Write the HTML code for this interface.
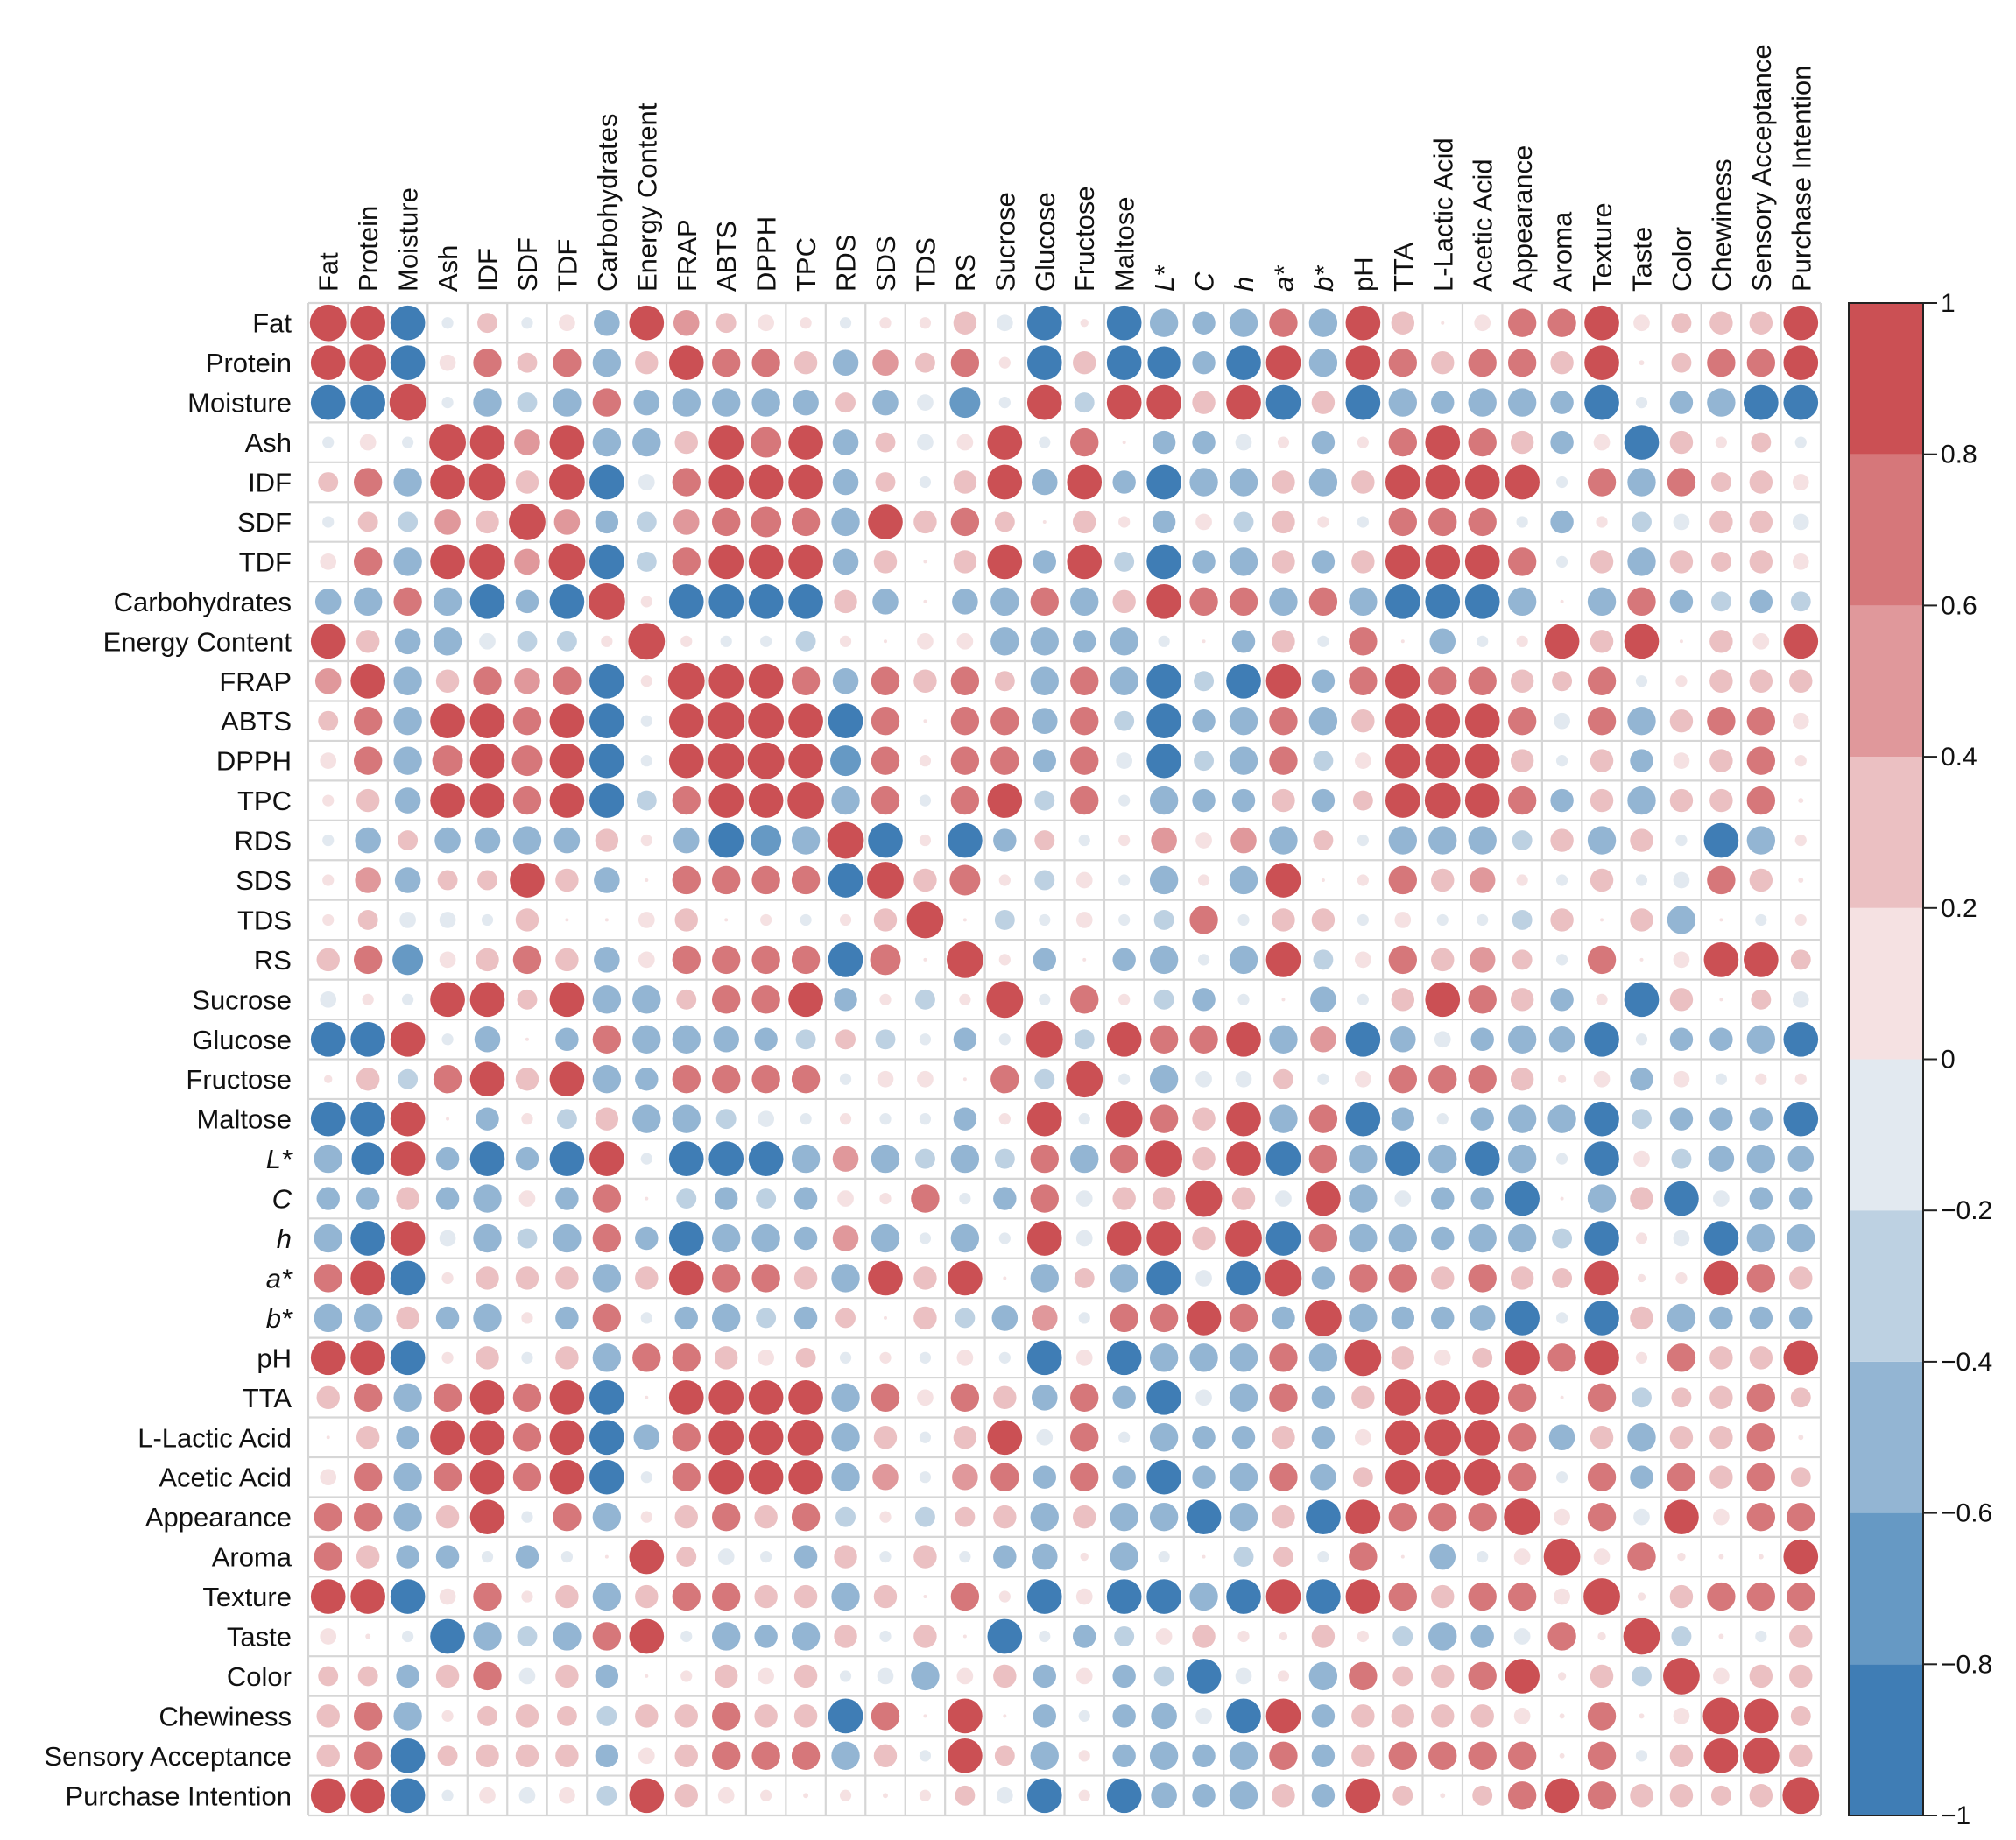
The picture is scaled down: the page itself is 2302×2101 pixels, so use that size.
<!DOCTYPE html>
<html><head><meta charset="utf-8"><title>Correlation matrix</title>
<style>
html,body{margin:0;padding:0;background:#fff;}
svg{display:block;font-family:"Liberation Sans",Arial,sans-serif;}
</style></head>
<body>
<svg id="chart" width="2302" height="2101" viewBox="0 0 2302 2101" xmlns="http://www.w3.org/2000/svg"></svg>
<script>
const variables = ["Fat","Protein","Moisture","Ash","IDF","SDF","TDF","Carbohydrates","Energy Content","FRAP","ABTS","DPPH","TPC","RDS","SDS","TDS","RS","Sucrose","Glucose","Fructose","Maltose","L*","C","h","a*","b*","pH","TTA","L-Lactic Acid","Acetic Acid","Appearance","Aroma","Texture","Taste","Color","Chewiness","Sensory Acceptance","Purchase Intention"];
const italicVars = ["L*","C","h","a*","b*"];
// lower triangle rows (row i has i values, columns 0..i-1); diagonal = 1
const lowerTriangle = [
[],
[0.9],
[-0.9,-0.9],
[-0.1,0.2,-0.1],
[0.3,0.6,-0.6,0.9],
[-0.1,0.3,-0.3,0.5,0.4],
[0.2,0.6,-0.6,0.9,0.95,0.5],
[-0.5,-0.6,0.6,-0.6,-0.9,-0.4,-0.9],
[0.9,0.4,-0.5,-0.6,-0.2,-0.3,-0.3,0.1],
[0.5,0.9,-0.6,0.4,0.6,0.5,0.6,-0.9,0.1],
[0.3,0.6,-0.6,0.9,0.9,0.6,0.9,-0.9,-0.1,0.9],
[0.2,0.6,-0.6,0.7,0.9,0.7,0.9,-0.9,-0.1,0.9,0.95],
[0.1,0.4,-0.5,0.9,0.9,0.6,0.9,-0.9,-0.3,0.6,0.9,0.9],
[-0.1,-0.5,0.3,-0.5,-0.5,-0.6,-0.5,0.4,0.1,-0.5,-0.9,-0.7,-0.6],
[0.1,0.5,-0.5,0.3,0.3,0.9,0.4,-0.5,0.0,0.6,0.6,0.6,0.6,-0.9],
[0.1,0.3,-0.2,-0.2,-0.1,0.4,0.0,0.0,0.2,0.4,0.0,0.1,-0.1,0.1,0.4],
[0.4,0.6,-0.7,0.2,0.4,0.6,0.4,-0.5,0.2,0.6,0.6,0.6,0.6,-0.9,0.7,0.0],
[-0.2,0.1,-0.1,0.9,0.9,0.3,0.9,-0.6,-0.6,0.3,0.6,0.6,0.9,-0.4,0.1,-0.3,0.1],
[-0.9,-0.9,0.9,-0.1,-0.5,0.0,-0.4,0.6,-0.6,-0.6,-0.5,-0.4,-0.3,0.3,-0.3,-0.1,-0.4,-0.1],
[0.05,0.4,-0.3,0.6,0.9,0.4,0.9,-0.6,-0.4,0.6,0.6,0.6,0.6,-0.1,0.2,0.2,0.0,0.6,-0.3],
[-0.9,-0.9,0.9,0.0,-0.4,0.1,-0.3,0.4,-0.6,-0.6,-0.3,-0.2,-0.1,0.1,-0.1,-0.1,-0.4,0.1,0.9,-0.1],
[-0.6,-0.8,0.9,-0.4,-0.9,-0.4,-0.9,0.9,-0.1,-0.9,-0.9,-0.9,-0.6,0.5,-0.6,-0.3,-0.6,-0.3,0.6,-0.6,0.6],
[-0.4,-0.4,0.4,-0.4,-0.6,0.2,-0.4,0.6,0.0,-0.3,-0.4,-0.3,-0.4,0.2,0.1,0.6,-0.1,-0.4,0.6,-0.2,0.4,0.4],
[-0.6,-0.9,0.9,-0.2,-0.6,-0.3,-0.6,0.6,-0.4,-0.9,-0.6,-0.6,-0.4,0.5,-0.6,-0.1,-0.6,-0.1,0.9,-0.2,0.9,0.9,0.4],
[0.6,0.9,-0.9,0.1,0.4,0.4,0.4,-0.6,0.4,0.9,0.6,0.6,0.4,-0.6,0.9,0.4,0.9,0.0,-0.6,0.3,-0.6,-0.9,-0.2,-0.9],
[-0.6,-0.6,0.4,-0.4,-0.6,0.1,-0.4,0.6,-0.1,-0.4,-0.6,-0.3,-0.4,0.3,0.0,0.4,-0.3,-0.5,0.5,-0.1,0.6,0.6,0.9,0.6,-0.4],
[0.9,0.9,-0.9,0.1,0.4,-0.1,0.4,-0.6,0.6,0.6,0.4,0.2,0.3,-0.1,0.1,-0.1,0.2,-0.1,-0.9,0.2,-0.9,-0.6,-0.6,-0.6,0.6,-0.6],
[0.4,0.6,-0.6,0.6,0.9,0.6,0.9,-0.9,0.0,0.9,0.9,0.9,0.9,-0.6,0.6,0.2,0.6,0.4,-0.5,0.6,-0.4,-0.9,-0.2,-0.6,0.6,-0.4,0.4],
[0.0,0.4,-0.4,0.9,0.9,0.6,0.9,-0.9,-0.5,0.6,0.9,0.9,0.95,-0.6,0.4,-0.1,0.4,0.9,-0.2,0.6,-0.1,-0.6,-0.4,-0.4,0.4,-0.4,0.2,0.9],
[0.2,0.6,-0.6,0.6,0.9,0.6,0.9,-0.9,-0.1,0.6,0.9,0.9,0.9,-0.6,0.5,-0.1,0.5,0.6,-0.4,0.6,-0.4,-0.9,-0.4,-0.6,0.6,-0.5,0.3,0.9,0.95],
[0.6,0.6,-0.6,0.4,0.9,-0.1,0.6,-0.6,0.1,0.4,0.6,0.4,0.6,-0.3,0.1,-0.3,0.3,0.4,-0.6,0.4,-0.6,-0.6,-0.9,-0.6,0.4,-0.9,0.9,0.6,0.6,0.6],
[0.6,0.4,-0.4,-0.4,-0.1,-0.4,-0.1,0.0,0.9,0.3,-0.2,-0.1,-0.4,0.4,-0.1,0.4,-0.1,-0.4,-0.5,0.05,-0.6,-0.1,0.0,-0.3,0.3,-0.1,0.6,0.0,-0.5,-0.1,0.2],
[0.9,0.9,-0.9,0.2,0.6,0.1,0.4,-0.6,0.4,0.6,0.6,0.4,0.4,-0.6,0.4,0.0,0.6,0.1,-0.9,0.2,-0.9,-0.9,-0.6,-0.9,0.9,-0.9,0.9,0.6,0.4,0.6,0.6,0.2],
[0.2,0.02,-0.1,-0.9,-0.6,-0.3,-0.6,0.6,0.9,-0.1,-0.6,-0.4,-0.6,0.4,-0.1,0.4,0.0,-0.9,-0.1,-0.4,-0.3,0.2,0.4,0.1,0.05,0.4,0.1,-0.3,-0.6,-0.4,-0.2,0.6,0.05],
[0.3,0.3,-0.4,0.4,0.6,-0.2,0.4,-0.4,0.0,0.1,0.4,0.2,0.4,-0.1,-0.2,-0.6,0.2,0.4,-0.4,0.2,-0.4,-0.3,-0.9,-0.2,0.1,-0.6,0.6,0.3,0.4,0.6,0.9,0.05,0.4,-0.3],
[0.4,0.6,-0.6,0.1,0.3,0.4,0.3,-0.3,0.4,0.4,0.6,0.4,0.4,-0.9,0.6,0.0,0.9,0.0,-0.4,-0.1,-0.4,-0.5,-0.2,-0.9,0.9,-0.4,0.4,0.4,0.4,0.4,0.2,0.02,0.6,0.02,0.2],
[0.4,0.6,-0.9,0.3,0.4,0.4,0.4,-0.4,0.2,0.4,0.6,0.6,0.6,-0.6,0.4,-0.1,0.9,0.3,-0.6,0.1,-0.4,-0.6,-0.4,-0.6,0.6,-0.4,0.4,0.6,0.6,0.6,0.6,0.02,0.6,-0.1,0.4,0.9],
[0.9,0.9,-0.9,-0.1,0.2,-0.2,0.2,-0.3,0.9,0.4,0.2,0.1,0.02,0.1,0.02,0.1,0.3,-0.2,-0.9,0.1,-0.9,-0.5,-0.4,-0.6,0.4,-0.4,0.9,0.3,0.02,0.3,0.6,0.9,0.6,0.4,0.4,0.3,0.4]
];
const colorBreaks = [-1,-0.8,-0.6,-0.4,-0.2,0,0.2,0.4,0.6,0.8,1];
const binColors = ["#3f7db5","#6699c4","#93b5d3","#bdd1e2","#e2e9f0","#f5e1e2","#ebc0c2","#e0989b","#d6777a","#cb5054"];
const legendTicks = [1,0.8,0.6,0.4,0.2,0,-0.2,-0.4,-0.6,-0.8,-1];

const NS="http://www.w3.org/2000/svg";
const svg=document.getElementById('chart');
const n=variables.length;
const gx0=352, gy0=346, gx1=2079, gy1=2073;
const cw=(gx1-gx0)/n, ch=(gy1-gy0)/n;
const xPos=j=>gx0+cw*(j+0.5);
const yPos=i=>gy0+ch*(i+0.5);
function corr(i,j){ if(i===j) return 1; return i>j?lowerTriangle[i][j]:lowerTriangle[j][i]; }
function colorOf(v){ let k=Math.floor((v+1)/0.2); if(k>9)k=9; if(k<0)k=0; return binColors[k]; }
function mk(tag,attrs){const e=document.createElementNS(NS,tag);for(const k in attrs)e.setAttribute(k,attrs[k]);return e;}

const grid=mk('g',{});


svg.appendChild(grid);
for(let k=0;k<=n;k++){
  grid.appendChild(mk('line',{x1:gx0+cw*k,y1:gy0,x2:gx0+cw*k,y2:gy1,stroke:'#d6d6d6','stroke-width':2.2}));
  grid.appendChild(mk('line',{x1:gx0,y1:gy0+ch*k,x2:gx1,y2:gy0+ch*k,stroke:'#d6d6d6','stroke-width':2.2}));
}
const marks=mk('g',{});


svg.appendChild(marks);
for(let i=0;i<n;i++){for(let j=0;j<n;j++){
  const v=corr(i,j);
  const r=Math.max(2,Math.sqrt(Math.abs(v))*cw*0.46);
  const c=mk('circle',{cx:xPos(j),cy:yPos(i),r:r.toFixed(2),fill:colorOf(v)});
  
  
  marks.appendChild(c);
}}
for(let i=0;i<n;i++){
  const t=mk('text',{x:333,y:yPos(i)+11,'text-anchor':'end','font-size':31,fill:'#111'});
  if(italicVars.includes(variables[i])) t.setAttribute('font-style','italic');
  t.textContent=variables[i];
  
  
  svg.appendChild(t);
}
for(let j=0;j<n;j++){
  const x=xPos(j)+11, y=333;
  const t=mk('text',{x:x,y:y,'font-size':31,fill:'#111',transform:`rotate(-90 ${x} ${y})`});
  if(italicVars.includes(variables[j])) t.setAttribute('font-style','italic');
  t.textContent=variables[j];
  
  
  svg.appendChild(t);
}
const lx0=2111, lx1=2196;
const ly=v=>gy0+(1-v)/2*(gy1-gy0);
const legend=mk('g',{});


svg.appendChild(legend);
for(let k=0;k<binColors.length;k++){
  const r=mk('rect',{x:lx0,y:ly(colorBreaks[k+1]),width:lx1-lx0,height:ly(colorBreaks[k])-ly(colorBreaks[k+1]),fill:binColors[k]});
  
  
  legend.appendChild(r);
}
legend.appendChild(mk('rect',{x:lx0,y:gy0,width:lx1-lx0,height:gy1-gy0,fill:'none',stroke:'#222','stroke-width':2}));
for(const t of legendTicks){
  legend.appendChild(mk('line',{x1:lx1,y1:ly(t),x2:lx1+16,y2:ly(t),stroke:'#222','stroke-width':2}));
  const tx=mk('text',{x:2216,y:ly(t)+10,'font-size':30,fill:'#111'});
  tx.textContent=(t<0?'\u2212':'')+String(Math.abs(t));
  
  
  legend.appendChild(tx);
}
</script>
</body></html>
